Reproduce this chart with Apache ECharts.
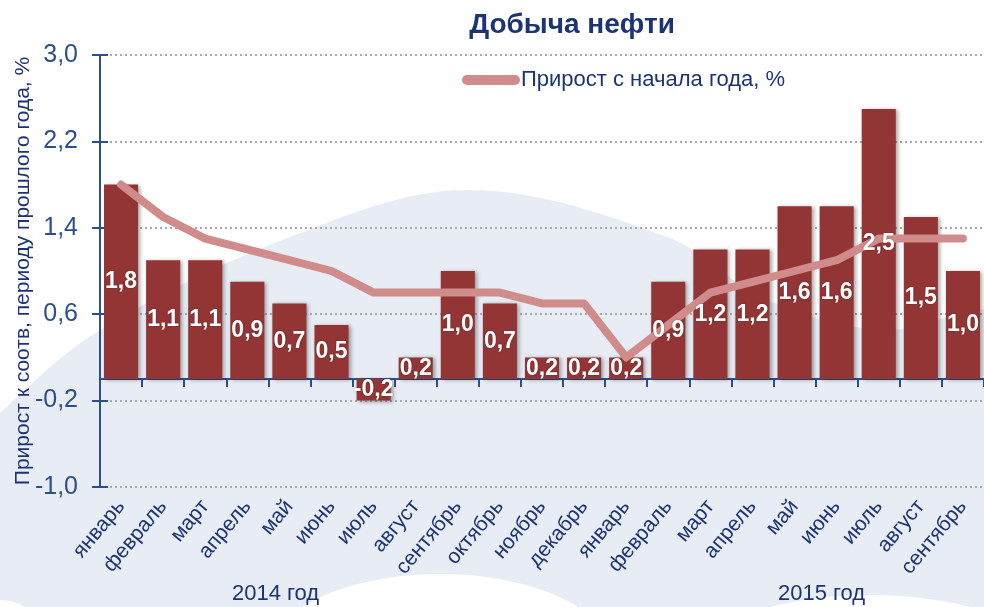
<!DOCTYPE html>
<html>
<head>
<meta charset="utf-8">
<title>Добыча нефти</title>
<script src="https://cdn.jsdelivr.net/npm/echarts@6/dist/echarts.min.js"></script>
<style>
    html, body {margin: 0; padding: 0; background: #ffffff;}
    #oil_chart {width: 984px; height: 607px;}
</style>
</head>
<body>
<div id="oil_chart"></div>
<script>
//*************** данные ***************
var months = ['январь', 'февраль', 'март', 'апрель', 'май', 'июнь', 'июль', 'август', 'сентябрь', 'октябрь', 'ноябрь', 'декабрь',
    'январь', 'февраль', 'март', 'апрель', 'май', 'июнь', 'июль', 'август', 'сентябрь'];
// прирост к соотв. периоду прошлого года, %
var yoy_values = [1.8, 1.1, 1.1, 0.9, 0.7, 0.5, -0.2, 0.2, 1.0, 0.7, 0.2, 0.2,
    0.2, 0.9, 1.2, 1.2, 1.6, 1.6, 2.5, 1.5, 1.0];
// прирост с начала года, %
var ytd_values = [1.8, 1.5, 1.3, 1.2, 1.1, 1.0, 0.8, 0.8, 0.8, 0.8, 0.7, 0.7,
    0.2, 0.5, 0.8, 0.9, 1.0, 1.1, 1.3, 1.3, 1.3];
var year_labels = ['2014 год', '2015 год'];

//*************** стиль ***************
var font_narrow = '"Liberation Sans Narrow", "Arial Narrow", "Liberation Sans", sans-serif';
var navy = '#1c3473';
var axis_blue = '#2b4f8e';
var bar_color = '#943535';
var line_color = '#d08c8a';
var bg_blue = '#e8ecf4';

function fmt(v) {
    return (Math.round(v * 10) / 10).toFixed(1).replace('.', ',').replace('-0,0', '0,0');
}

//*************** график ***************
var oil_chart_dom = document.getElementById('oil_chart');
var oil_chart = echarts.init(oil_chart_dom, null, {renderer: 'canvas'});

var tick_style = {color: axis_blue, width: 2};

var oil_option = {
    backgroundColor: '#ffffff',
    animation: false,
    textStyle: {fontFamily: font_narrow},
    graphic: [
        // фон
        {
            type: 'polygon', z: -10, silent: true,
            shape: {
                points: [[-20, 440], [0, 413], [100, 330], [290, 237], [467, 190], [667, 237], [767, 300],
                    [880, 330], [1004, 320], [1004, 627], [-20, 627]],
                smooth: 0.35
            },
            style: {fill: bg_blue}
        },
        {type: 'ellipse', z: -9, silent: true, shape: {cx: 440, cy: 660, rx: 175, ry: 86}, style: {fill: '#ffffff'}},
        {type: 'ellipse', z: -9, silent: true, shape: {cx: 870, cy: 685, rx: 200, ry: 90}, style: {fill: '#ffffff'}},
        {type: 'ellipse', z: -9, silent: true, shape: {cx: 0, cy: 680, rx: 60, ry: 80}, style: {fill: '#ffffff'}},
        // подписи лет
        {type: 'text', left: 232, top: 583, style: {text: year_labels[0], fontFamily: font_narrow, fontSize: 22, fill: navy}},
        {type: 'text', left: 778, top: 583, style: {text: year_labels[1], fontFamily: font_narrow, fontSize: 22, fill: navy}}
    ],
    title: {
        text: 'Добыча нефти',
        left: 567,
        textAlign: 'center',
        top: 6,
        textStyle: {fontFamily: font_narrow, fontSize: 28, fontWeight: 'bold', color: navy}
    },
    legend: {
        data: [{
            name: 'Прирост с начала года, %',
            icon: 'path://M5,0 L53,0 A5,5 0 0 1 53,10 L5,10 A5,5 0 0 1 5,0 Z'
        }],
        left: 457,
        top: 64,
        itemWidth: 58,
        itemHeight: 10,
        itemGap: 0,
        textStyle: {fontFamily: font_narrow, fontSize: 22, color: navy, padding: [0, 0, 0, -4]}
    },
    grid: {left: 100, right: 0, top: 55, bottom: 120, outerBoundsMode: 'none', containLabel: false},
    xAxis: [
        {
            type: 'category',
            data: months,
            axisLine: {onZero: true, lineStyle: {color: axis_blue, width: 2}},
            axisTick: {show: true, interval: 0, length: 8, lineStyle: tick_style},
            axisLabel: {show: false}
        },
        {
            type: 'category',
            data: months,
            position: 'bottom',
            axisLine: {show: false, onZero: false},
            axisTick: {show: false},
            axisLabel: {
                show: true,
                interval: 0,
                rotate: 50,
                margin: 16,
                fontFamily: font_narrow,
                fontSize: 21,
                color: navy
            }
        },
        {
            type: 'category',
            data: months,
            axisLine: {show: false, onZero: true},
            axisTick: {show: true, interval: 0, inside: true, length: 8, lineStyle: tick_style},
            axisLabel: {show: false}
        }
    ],
    yAxis: [
        {
            type: 'value',
            min: -1,
            max: 3,
            interval: 0.8,
            name: 'Прирост к соотв, периоду прошлого года, %',
            nameLocation: 'middle',
            nameGap: 66,
            nameMoveOverlap: false,
            nameTextStyle: {fontFamily: font_narrow, fontSize: 21, color: navy},
            axisLine: {show: true, lineStyle: {color: axis_blue, width: 2}},
            axisTick: {show: true, length: 8, lineStyle: tick_style},
            axisLabel: {
                fontFamily: font_narrow,
                fontSize: 25,
                color: axis_blue,
                margin: 22,
                formatter: function (v) { return fmt(v); }
            },
            splitLine: {show: true, lineStyle: {color: '#a9a9a9', type: [2, 3], width: 2}}
        },
        {
            type: 'value',
            min: -1,
            max: 3,
            interval: 0.8,
            position: 'left',
            axisLine: {show: false},
            axisTick: {show: true, inside: true, length: 8, lineStyle: tick_style},
            axisLabel: {show: false},
            splitLine: {show: false}
        }
    ],
    series: [
        {
            name: 'Прирост к соотв. периоду прошлого года, %',
            type: 'bar',
            data: yoy_values,
            barCategoryGap: '19%',
            z: 2,
            itemStyle: {
                color: bar_color,
                shadowColor: 'rgba(0,0,0,0.35)',
                shadowBlur: 4,
                shadowOffsetX: 2,
                shadowOffsetY: 1
            }
        },
        {
            name: 'Прирост с начала года, %',
            type: 'line',
            data: ytd_values,
            z: 3,
            symbol: 'none',
            lineStyle: {color: line_color, width: 8, cap: 'round', join: 'round'},
            itemStyle: {color: line_color}
        },
        {
            // подписи столбцов поверх линии
            name: 'labels',
            type: 'bar',
            data: yoy_values,
            barCategoryGap: '19%',
            barGap: '-100%',
            z: 4,
            silent: true,
            itemStyle: {color: 'rgba(0,0,0,0)'},
            label: {
                show: true,
                position: 'inside',
                fontFamily: font_narrow,
                fontSize: 23,
                fontWeight: 'bold',
                color: '#ffffff',
                textShadowColor: 'rgba(0,0,0,0.35)',
                textShadowBlur: 2,
                formatter: function (p) { return fmt(p.value); }
            }
        }
    ]
};

oil_chart.setOption(oil_option);
</script>
</body>
</html>
